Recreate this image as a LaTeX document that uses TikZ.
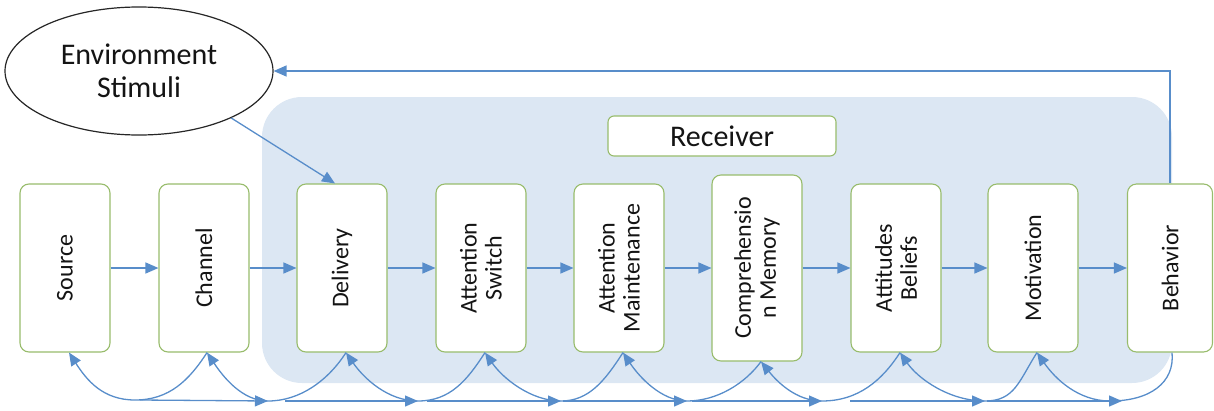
\documentclass[tikz,border=0pt]{standalone}
\usepackage{fontspec}
\setmainfont{Carlito}
\usetikzlibrary{arrows.meta,shapes.geometric}
\definecolor{arrowblue}{RGB}{88,141,202}
\definecolor{boxgreen}{RGB}{152,188,108}
\definecolor{bgblue}{RGB}{220,231,243}
\definecolor{txt}{RGB}{20,20,20}
\tikzset{
  stagebox/.style={draw=boxgreen, line width=1.1pt, fill=white, rounded corners=9pt,
    minimum width=90pt, minimum height=168pt, inner sep=0pt},
  stagelbl/.style={rotate=90, align=center, text=txt, font=\fontsize{24}{25}\selectfont, inner sep=0pt},
  conn/.style={draw=arrowblue, line width=1.3pt, -{Triangle[length=13pt,width=11pt]}},
  backconn/.style={draw=arrowblue, line width=1.3pt, {Triangle[length=13pt,width=11pt]}-},
}
\begin{document}
\begin{tikzpicture}[x=1pt,y=-1pt]
\useasboundingbox (0,0) rectangle (1214,410);
% receiver background region
\node[fill=bgblue, rounded corners=40pt, minimum width=910pt, minimum height=286pt, inner sep=0pt] (region) at (717,240) {};
% Receiver title
\node[draw=boxgreen, line width=1.1pt, fill=white, rounded corners=6pt, minimum width=228pt, minimum height=40pt,
  text=txt, font=\fontsize{30}{32}\selectfont, inner sep=0pt] (recv) at (722,136) {Receiver};
% environment ellipse
\node[ellipse, draw=black!85, line width=1.2pt, fill=white, minimum width=268pt, minimum height=128pt, inner sep=0pt,
  align=center, text=txt, font=\fontsize{30}{33}\selectfont] (env) at (139,71) {Environment\\Stimuli};
% stage boxes
\node[stagebox] (src) at (65,268) {};
\node[stagebox] (chn) at (204,268) {};
\node[stagebox] (del) at (342,268) {};
\node[stagebox] (asw) at (481,268) {};
\node[stagebox] (amt) at (619,268) {};
\node[stagebox, minimum height=186pt] (cmp) at (757,268) {};
\node[stagebox] (att) at (896,268) {};
\node[stagebox] (mot) at (1033,268) {};
\node[stagebox, minimum width=85pt] (beh) at (1170,268) {};
% labels
\node[stagelbl] (srcT) at (src) {Source};
\node[stagelbl] (chnT) at (chn) {Channel};
\node[stagelbl] (delT) at (del) {Delivery};
\node[stagelbl] (aswT) at (asw) {Attention\\Switch};
\node[stagelbl] (amtT) at (amt) {Attention\\Maintenance};
\node[stagelbl] (cmpT) at (cmp) {Comprehensio\\n Memory};
\node[stagelbl] (attT) at (att) {Attitudes\\Beliefs};
\node[stagelbl] (motT) at (mot) {Motivation};
\node[stagelbl] (behT) at (beh) {Behavior};
% forward arrows
\draw[conn] (src.east) -- (chn.west);
\draw[conn] (chn.east) -- (del.west);
\draw[conn] (del.east) -- (asw.west);
\draw[conn] (asw.east) -- (amt.west);
\draw[conn] (amt.east) -- (cmp.west);
\draw[conn] (cmp.east) -- (att.west);
\draw[conn] (att.east) -- (mot.west);
\draw[conn] (mot.east) -- (beh.west);
% environment input and feedback
\draw[conn] (env.-27) -- ([xshift=-7pt]del.north);
\draw[conn] (beh.north) |- (env.east);
% bottom arcs
\coordinate (m1) at (135,400);
\coordinate (m2) at (268,401);
\coordinate (m3) at (418,401);
\coordinate (m4) at (561,401);
\coordinate (m5) at (687,401);
\coordinate (m6) at (822,401);
\coordinate (m7) at (985,401);
\coordinate (m8) at (1110,401);
\draw[backconn] ([xshift=4pt]src.south) .. controls +(18,28) and +(-32,0) .. (m1) .. controls +(34,0) and +(-18,28) .. ([xshift=3pt]chn.south);
\draw[backconn] ([xshift=3pt]chn.south) .. controls +(16,24) and +(-26,0) .. (m2) .. controls +(32,0) and +(-18,28) .. ([xshift=4pt]del.south);
\draw[backconn] ([xshift=4pt]del.south) .. controls +(18,26) and +(-30,0) .. (m3) .. controls +(32,0) and +(-18,28) .. ([xshift=4pt]asw.south);
\draw[backconn] ([xshift=4pt]asw.south) .. controls +(18,26) and +(-30,0) .. (m4) .. controls +(28,0) and +(-18,28) .. ([xshift=4pt]amt.south);
\draw[backconn] ([xshift=4pt]amt.south) .. controls +(16,24) and +(-26,0) .. (m5) .. controls +(30,0) and +(-16,22) .. ([xshift=4pt]cmp.south);
\draw[backconn] ([xshift=4pt]cmp.south) .. controls +(16,20) and +(-26,0) .. (m6) .. controls +(36,0) and +(-18,28) .. ([xshift=4pt]att.south);
\draw[backconn] ([xshift=4pt]att.south) .. controls +(18,26) and +(-36,0) .. (m7) .. controls +(30,0) and +(-18,28) .. ([xshift=4pt]mot.south);
\draw[backconn] ([xshift=4pt]mot.south) .. controls +(18,26) and +(-32,0) .. (m8) .. controls +(40,0) and +(3,30) .. ([xshift=2pt]beh.south);
% bottom straight arrows
\draw[conn] ([xshift=5pt]m1) -- (m2);
\draw[conn] ([xshift=17pt]m2) -- (m3);
\draw[conn] ([xshift=9pt]m3) -- (m4);
\draw[conn] ([xshift=2pt]m4) -- (m5);
\draw[conn] ([xshift=5pt]m5) -- (m6);
\draw[conn] ([xshift=28pt]m6) -- (m7);
\draw[conn] ([xshift=2pt]m7) -- ([xshift=12pt]m8);
\end{tikzpicture}
\end{document}
